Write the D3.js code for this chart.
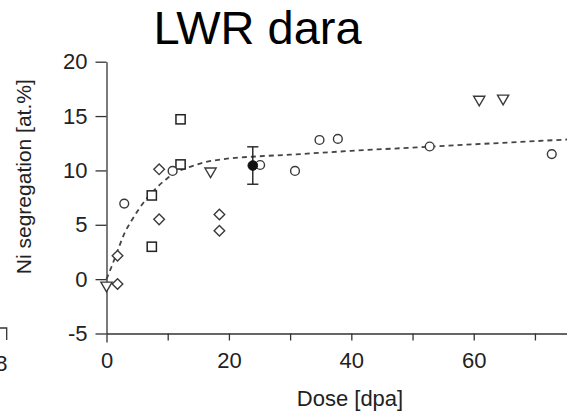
<html>
<head>
<meta charset="utf-8">
<title>LWR dara</title>
<style>
  body { margin: 0; background: #fff; }
  svg { display: block; font-family: "Liberation Sans", Arial, sans-serif; }
</style>
</head>
<body>
<div id="chart"></div>
<script src="https://cdn.jsdelivr.net/npm/d3@7"></script>
<script>
(function(){
  "use strict";

  // data
  var circleX = [2.9, 10.8, 25.1, 30.8, 34.8, 37.8, 52.8, 72.75];
  var circleY = [6.95, 9.95, 10.5, 9.95, 12.8, 12.9, 12.2, 11.5];

  var squareX = [12.1, 12.1, 7.4, 7.4];
  var squareY = [14.7, 10.55, 7.7, 2.98];

  var diamondX = [8.6, 8.6, 1.8, 1.8, 18.45, 18.45];
  var diamondY = [10.1, 5.5, -0.45, 2.15, 5.95, 4.45];

  var triangleX = [0, 17, 60.9, 64.8];
  var triangleY = [-0.7, 9.8, 16.4, 16.5];

  // mean value with error bar
  var meanX = [23.9];
  var meanY = [10.45];
  var meanErr = [1.72];

  // dashed trend curve
  var fitX = [0, 1, 2, 3, 4, 5, 6, 8, 10, 12, 14, 16, 18, 20, 25, 30, 40, 50, 60, 75.5];
  var fitY = [0, 1.4, 2.9, 4.3, 5.3, 6.2, 7.0, 8.3, 9.3, 10.0, 10.4, 10.75, 10.95, 11.1, 11.3, 11.45, 11.8, 12.1, 12.4, 12.85];

  var xTicks = [0, 10, 20, 30, 40, 50, 60, 70];
  var yTicks = [-5, 0, 5, 10, 15, 20];

  var width = 567, height = 411;
  var ink = "#3a3a3a";

  var x = d3.scaleLinear().domain([0, 75.5]).range([106.5, 568.6]);
  var y = d3.scaleLinear().domain([-5, 20]).range([333.5, 61.7]);

  var svg = d3.select("#chart").append("svg")
      .attr("width", width)
      .attr("height", height)
      .style("background", "#fff");

  // title
  svg.append("text")
      .attr("x", 153.5)
      .attr("y", 44)
      .style("font-size", "47px")
      .style("fill", "#000")
      .text("LWR dara");

  // leftover bits of a neighbouring chart at the left edge
  svg.append("path")
      .attr("d", "M0,328H6.7V340")
      .attr("fill", "none")
      .attr("stroke", "#333")
      .attr("stroke-width", 1.3);
  svg.append("text")
      .attr("x", 7.5)
      .attr("y", 371)
      .attr("text-anchor", "end")
      .style("font-size", "22px")
      .style("fill", "#222")
      .text("8");

  // axes
  var xAxis = d3.axisBottom(x)
      .tickValues(xTicks)
      .tickSize(7)
      .tickSizeOuter(0)
      .tickPadding(12)
      .tickFormat(function(d){ return d % 20 === 0 ? String(d) : ""; });

  var yAxis = d3.axisLeft(y)
      .tickValues(yTicks)
      .tickSize(11)
      .tickSizeOuter(0)
      .tickPadding(8)
      .tickFormat(function(d){ return String(d); });

  var gx = svg.append("g")
      .attr("transform", "translate(0," + y(-5) + ")")
      .call(xAxis);

  var gy = svg.append("g")
      .attr("transform", "translate(" + x(0) + ",0)")
      .call(yAxis);

  [gx, gy].forEach(function(g){
    g.selectAll("path, line").attr("stroke", "#333").attr("stroke-width", 1.3);
    g.selectAll("text").style("font-size", "22px").style("fill", "#222").attr("font-family", null);
  });
  gx.select(".tick line").attr("y2", 9);

  svg.append("text")
      .attr("x", 350)
      .attr("y", 405.5)
      .attr("text-anchor", "middle")
      .style("font-size", "22px")
      .style("fill", "#222")
      .text("Dose [dpa]");

  svg.append("text")
      .attr("transform", "translate(30.5,176.7) rotate(-90)")
      .attr("text-anchor", "middle")
      .style("font-size", "21px")
      .style("fill", "#222")
      .text("Ni segregation [at.%]");

  // dashed curve
  var line = d3.line()
      .x(function(d){ return x(d[0]); })
      .y(function(d){ return y(d[1]); })
      .curve(d3.curveMonotoneX);

  svg.append("path")
      .datum(d3.zip(fitX, fitY))
      .attr("d", line)
      .attr("fill", "none")
      .attr("stroke", "#444")
      .attr("stroke-width", 1.8)
      .attr("stroke-dasharray", "5,4");

  var marks = svg.append("g")
      .attr("fill", "#fff")
      .attr("stroke", ink);

  // squares
  marks.selectAll("rect.sq")
      .data(d3.zip(squareX, squareY))
      .enter().append("rect")
        .attr("class", "sq")
        .attr("x", function(d){ return x(d[0]) - 4.6; })
        .attr("y", function(d){ return y(d[1]) - 4.6; })
        .attr("width", 9.2)
        .attr("height", 9.2)
        .attr("stroke", "#222")
        .attr("stroke-width", 1.5);

  // diamonds
  marks.selectAll("path.dm")
      .data(d3.zip(diamondX, diamondY))
      .enter().append("path")
        .attr("class", "dm")
        .attr("d", function(d){
          var cx = x(d[0]), cy = y(d[1]), r = 5.3;
          return "M" + cx + "," + (cy - r) + "L" + (cx + r) + "," + cy +
                 "L" + cx + "," + (cy + r) + "L" + (cx - r) + "," + cy + "Z";
        })
        .attr("stroke-width", 1.4);

  // down triangles
  marks.selectAll("path.tr")
      .data(d3.zip(triangleX, triangleY))
      .enter().append("path")
        .attr("class", "tr")
        .attr("d", function(d){
          var cx = x(d[0]), cy = y(d[1]);
          return "M" + (cx - 5.6) + "," + (cy - 4.6) + "L" + (cx + 5.6) + "," + (cy - 4.6) +
                 "L" + cx + "," + (cy + 5) + "Z";
        })
        .attr("stroke-width", 1.4);

  // error bar + filled mean
  var eb = svg.append("g").attr("stroke", "#222").attr("stroke-width", 1.4);
  d3.zip(meanX, meanY, meanErr).forEach(function(d){
    var cx = x(d[0]), t = y(d[1] + d[2]), b = y(d[1] - d[2]);
    eb.append("line").attr("x1", cx).attr("x2", cx).attr("y1", t).attr("y2", b);
    eb.append("line").attr("x1", cx - 5.6).attr("x2", cx + 5.6).attr("y1", t).attr("y2", t);
    eb.append("line").attr("x1", cx - 5.6).attr("x2", cx + 5.6).attr("y1", b).attr("y2", b);
  });

  // circles
  marks.selectAll("circle.ci")
      .data(d3.zip(circleX, circleY))
      .enter().append("circle")
        .attr("class", "ci")
        .attr("cx", function(d){ return x(d[0]); })
        .attr("cy", function(d){ return y(d[1]); })
        .attr("r", 4.4)
        .attr("stroke-width", 1.4);

  svg.selectAll("circle.mean")
      .data(d3.zip(meanX, meanY))
      .enter().append("circle")
        .attr("class", "mean")
        .attr("cx", function(d){ return x(d[0]); })
        .attr("cy", function(d){ return y(d[1]); })
        .attr("r", 4.8)
        .attr("fill", "#111")
        .attr("stroke", "#111");
})();
</script>
</body>
</html>
